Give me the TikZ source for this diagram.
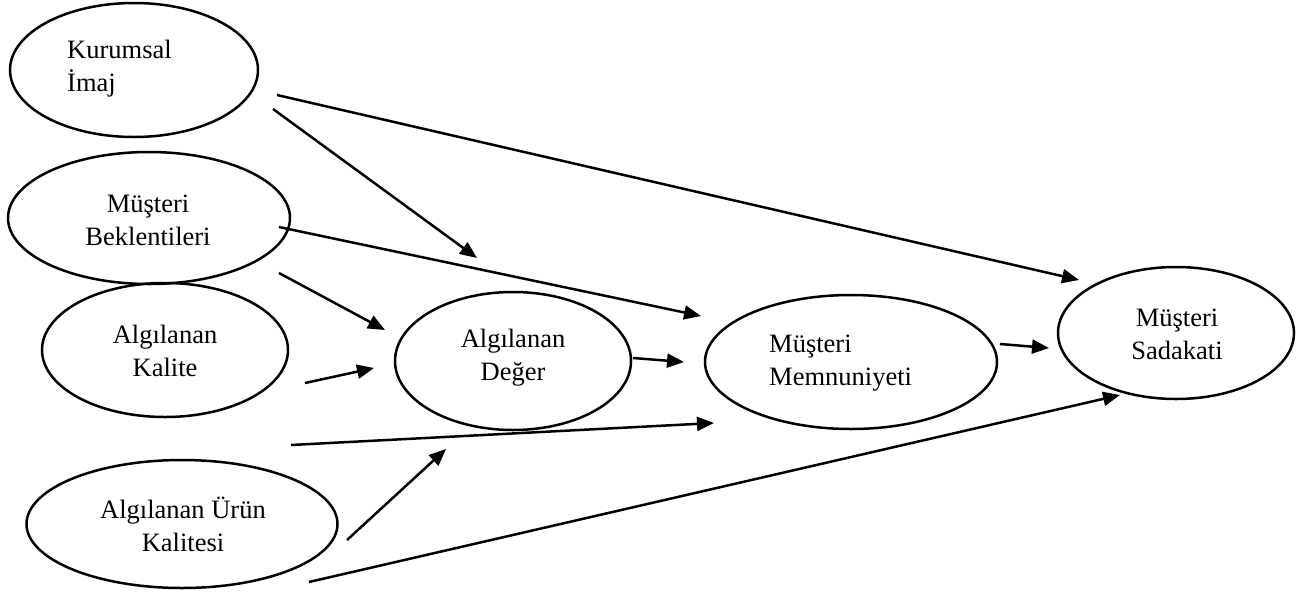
\documentclass[tikz,border=0pt]{standalone}
\usepackage{fontspec}
\setmainfont{Liberation Serif}
\usetikzlibrary{shapes.geometric,arrows.meta}
\begin{document}
\begin{tikzpicture}[x=1pt,y=-1pt,
  oval/.style={draw,ellipse,line width=2.5pt,inner sep=0pt},
  lbl/.style={font=\fontsize{26.5}{33}\selectfont,inner sep=0pt},
  conn/.style={line width=2.5pt,-{Triangle[length=17pt,width=14pt]}}]
\useasboundingbox (0,0) rectangle (1304,592);
% ellipses
\node[oval,minimum width=248pt,minimum height=134pt] (ki) at (134,70) {};
\node[oval,minimum width=282pt,minimum height=132pt] (mb) at (149,218) {};
\node[oval,minimum width=246pt,minimum height=134pt] (ak) at (165,350) {};
\node[oval,minimum width=311pt,minimum height=128pt] (auk) at (182,524) {};
\node[oval,minimum width=236pt,minimum height=138pt] (ad) at (513,361) {};
\node[oval,minimum width=292pt,minimum height=134pt] (mm) at (851,362) {};
\node[oval,minimum width=236pt,minimum height=132pt] (ms) at (1176,333) {};
% texts
\node[lbl,align=left,anchor=west] (kit) at (67,69) {Kurumsal\\İmaj};
\node[lbl,align=center] (mbt) at (148,220) {Müşteri\\Beklentileri};
\node[lbl,align=center] (akt) at (165,351) {Algılanan\\Kalite};
\node[lbl,align=center] (aukt) at (183,524) {Algılanan Ürün\\Kalitesi};
\node[lbl,align=center] (adt) at (513,358) {Algılanan\\Değer};
\node[lbl,align=left,anchor=west] (mmt) at (769,363) {Müşteri\\Memnuniyeti};
\node[lbl,align=center] (mst) at (1177,334) {Müşteri\\Sadakati};
% connector end points
\coordinate (a1s) at (277,95);   \coordinate (a1e) at (1079,280);
\coordinate (a2s) at (273,109);  \coordinate (a2e) at (477,258);
\coordinate (a3s) at (279,227);  \coordinate (a3e) at (701,316);
\coordinate (a4s) at (279,273);  \coordinate (a4e) at (385,330);
\coordinate (a5s) at (305,383);  \coordinate (a5e) at (374,368);
\coordinate (a6s) at (633,358);  \coordinate (a6e) at (684,362);
\coordinate (a7s) at (1000,344); \coordinate (a7e) at (1049,348);
\coordinate (a8s) at (291,445);  \coordinate (a8e) at (714,423);
\coordinate (a9s) at (347,540);  \coordinate (a9e) at (446,449);
\coordinate (a10s) at (309,582); \coordinate (a10e) at (1120,395);
% connectors
\draw[conn] (a1s) -- (a1e);
\draw[conn] (a2s) -- (a2e);
\draw[conn] (a3s) -- (a3e);
\draw[conn] (a4s) -- (a4e);
\draw[conn] (a5s) -- (a5e);
\draw[conn] (a6s) -- (a6e);
\draw[conn] (a7s) -- (a7e);
\draw[conn] (a8s) -- (a8e);
\draw[conn] (a9s) -- (a9e);
\draw[conn] (a10s) -- (a10e);
\end{tikzpicture}
\end{document}
